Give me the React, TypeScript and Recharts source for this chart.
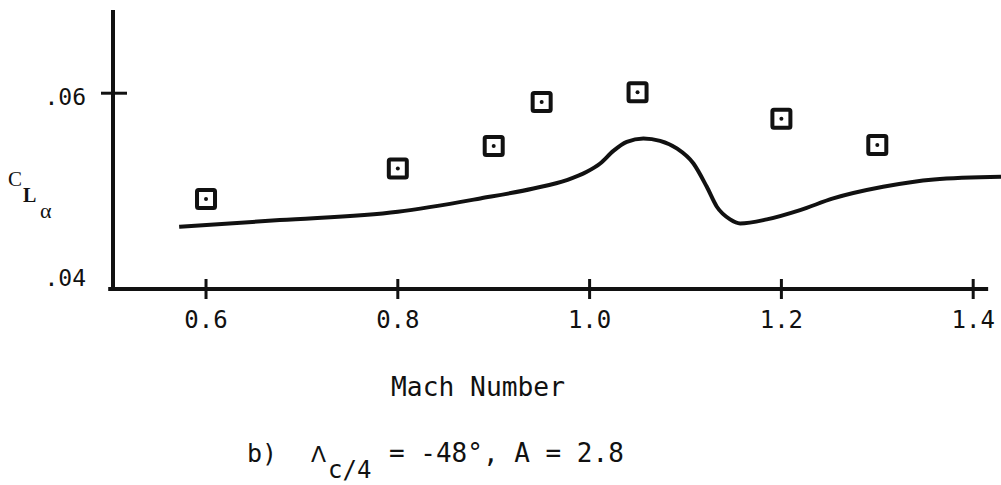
import React from "react";
import {
  ComposedChart,
  Line,
  Scatter,
  XAxis,
  YAxis,
  ReferenceLine,
} from "recharts";

// Theory curve: lift-curve slope vs Mach number
const curveMach = [
  0.572, 0.677, 0.8, 0.886, 0.9414, 0.9762, 0.9971, 1.011, 1.0248, 1.0388,
  1.0561, 1.0735, 1.0909, 1.1083, 1.1222, 1.1327, 1.1465, 1.157, 1.1848,
  1.2195, 1.254, 1.306, 1.359, 1.429,
];
const curveCLa = [
  0.04636, 0.04704, 0.04789, 0.04925, 0.05027, 0.05112, 0.05197, 0.05282,
  0.05411, 0.05503, 0.05538, 0.05513, 0.05436, 0.05282, 0.05044, 0.0484,
  0.04711, 0.0467, 0.04711, 0.04806, 0.04925, 0.05044, 0.05119, 0.05146,
];

// Experimental points
const testMach = [0.6, 0.8, 0.9, 0.95, 1.05, 1.2, 1.3];
const testCLa = [0.0492, 0.0523, 0.0546, 0.0591, 0.0601, 0.0574, 0.0547];

// Axis ticks
const xTicks = [0.6, 0.8, 1.0, 1.2, 1.4];
const xTickLabels = ["0.6", "0.8", "1.0", "1.2", "1.4"];
const yTicks = [0.04, 0.06];
const yTickLabels = [".04", ".06"];

const curveData = curveMach.map((m, i) => ({ mach: m, cla: curveCLa[i] }));
const testData = testMach.map((m, i) => ({ mach: m, cla: testCLa[i] }));

const INK = "#111";
const TICK_FONT = "'DejaVu Sans Mono', monospace";

const XTick = (props: any) => {
  const { x, y, payload } = props;
  const idx = xTicks.indexOf(payload.value);
  return (
    <g>
      <line x1={x} x2={x} y1={y - 10} y2={y + 10} stroke={INK} strokeWidth={3} />
      <text
        x={x}
        y={y + 39}
        textAnchor="middle"
        fontFamily={TICK_FONT}
        fontSize={24}
        fill={INK}
      >
        {idx >= 0 ? xTickLabels[idx] : payload.value}
      </text>
    </g>
  );
};

const YTick = (props: any) => {
  const { x, y, payload } = props;
  const idx = yTicks.indexOf(payload.value);
  const showCross = payload.value !== yTicks[0];
  return (
    <g>
      {showCross && (
        <line x1={x + 15} x2={x + 41} y1={y} y2={y} stroke={INK} strokeWidth={3} />
      )}
      <text
        x={x}
        y={y + (showCross ? 12 : -3)}
        textAnchor="end"
        fontFamily={TICK_FONT}
        fontSize={23}
        fill={INK}
      >
        {idx >= 0 ? yTickLabels[idx] : payload.value}
      </text>
    </g>
  );
};

const SquareMark = (props: any) => {
  const { cx, cy } = props;
  if (cx == null || cy == null) return null;
  return (
    <g>
      <rect
        x={cx - 9}
        y={cy - 9}
        width={18}
        height={18}
        rx={1.5}
        fill="none"
        stroke={INK}
        strokeWidth={4}
      />
      <circle cx={cx} cy={cy} r={2} fill={INK} />
    </g>
  );
};

export default function App() {
  return (
    <div style={{ position: "absolute", left: 0, top: 0, width: 1001, height: 485, background: "#fff" }}>
      <ComposedChart
        width={1001}
        height={485}
        margin={{ top: 10, right: 0, bottom: 0, left: 0 }}
      >
        <XAxis
          dataKey="mach"
          type="number"
          domain={[0.503, 1.429]}
          ticks={xTicks}
          allowDataOverflow
          axisLine={false}
          tickLine={false}
          tickSize={0}
          tickMargin={0}
          height={196}
          tick={<XTick />}
          interval={0}
        />
        <YAxis
          dataKey="cla"
          type="number"
          domain={[0.04, 0.0685]}
          ticks={yTicks}
          allowDataOverflow
          width={113}
          axisLine={{ stroke: INK, strokeWidth: 4 }}
          tickLine={false}
          tickSize={0}
          tickMargin={27}
          tick={<YTick />}
          interval={0}
        />
        <ReferenceLine
          segment={[
            { x: 0.498, y: 0.04 },
            { x: 1.4156, y: 0.04 },
          ]}
          stroke={INK}
          strokeWidth={4}
          ifOverflow="visible"
        />
        <Line
          data={curveData}
          dataKey="cla"
          type="monotone"
          stroke={INK}
          strokeWidth={4}
          dot={false}
          activeDot={false}
          isAnimationActive={false}
        />
        <Scatter
          data={testData}
          dataKey="cla"
          shape={<SquareMark />}
          isAnimationActive={false}
        />
      </ComposedChart>
      <svg
        width={1001}
        height={485}
        style={{ position: "absolute", left: 0, top: 0, pointerEvents: "none" }}
      >
        <text x={8} y={186} fontFamily="'Liberation Serif', serif" fontSize={21} fill={INK}>
          C
        </text>
        <text x={23} y={202} fontFamily="'Liberation Serif', serif" fontSize={20} fontWeight="bold" fill={INK}>
          L
        </text>
        <text x={40} y={218} fontFamily="'Liberation Serif', serif" fontSize={22} fill={INK}>
          α
        </text>
        <text
          x={391}
          y={396}
          fontFamily={TICK_FONT}
          fontSize={26}
          textLength={174}
          lengthAdjust="spacingAndGlyphs"
          fill={INK}
        >
          Mach Number
        </text>
        <text x={247} y={462} fontFamily={TICK_FONT} fontSize={25} fill={INK}>
          b)
        </text>
        <text x={311} y={462} fontFamily="'DejaVu Sans', sans-serif" fontSize={22} fill={INK}>
          Λ
        </text>
        <text x={328} y={478} fontFamily={TICK_FONT} fontSize={24} fill={INK}>
          c/4
        </text>
        <text x={389} y={462} fontFamily={TICK_FONT} fontSize={26} fill={INK}>
          = -48°, A = 2.8
        </text>
      </svg>
    </div>
  );
}
